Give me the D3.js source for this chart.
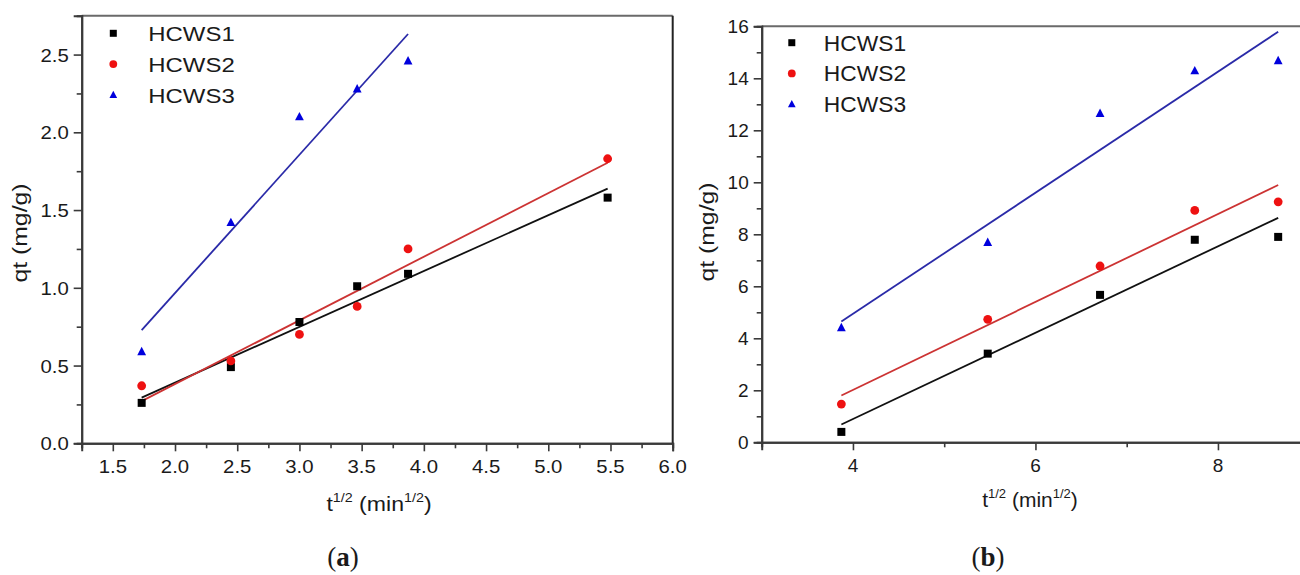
<!DOCTYPE html>
<html>
<head>
<meta charset="utf-8">
<script src="https://cdn.jsdelivr.net/npm/d3@7/dist/d3.min.js"></script>
<style>
  html, body { margin: 0; padding: 0; background: #fff; }
  svg { display: block; }
  text { font-family: "Liberation Sans", Arial, sans-serif; fill: #1a1a1a; }
</style>
</head>
<body>
<svg id="chart" width="1300" height="575"></svg>
<script>
// Intraparticle diffusion: qt against t^1/2 for three samples
const seriesNames = ["HCWS1", "HCWS2", "HCWS3"];

// (a) short contact times
const tA = [1.732, 2.449, 3.0, 3.464, 3.873, 5.477];
const qA1 = [0.26, 0.49, 0.78, 1.01, 1.09, 1.58];
const qA2 = [0.37, 0.53, 0.70, 0.88, 1.25, 1.83];
const qA3 = [0.59, 1.42, 2.10, 2.28, 2.46];
const xTicksA = [1.5, 2.0, 2.5, 3.0, 3.5, 4.0, 4.5, 5.0, 5.5, 6.0];
const yTicksA = [0.0, 0.5, 1.0, 1.5, 2.0, 2.5];

// (b) longer contact times
const tB = [3.873, 5.477, 6.708, 7.746, 8.660];
const qB1 = [0.40, 3.41, 5.67, 7.79, 7.90];
const qB2 = [1.47, 4.73, 6.78, 8.92, 9.25];
const qB3 = [4.41, 7.69, 12.65, 14.29, 14.68];
const xTicksB = [4, 6, 8];
const yTicksB = [0, 2, 4, 6, 8, 10, 12, 14, 16];

const pointColors = ["#000000", "#ee1111", "#0000dd"];
const lineColors = ["#111111", "#cc3333", "#2a2aa8"];
const shapes = ["square", "circle", "triangle"];

const svg = d3.select("#chart");

// least-squares straight line through a series
function fit(xs, ys) {
  const n = xs.length;
  const mx = d3.mean(xs), my = d3.mean(ys);
  let sxy = 0, sxx = 0;
  for (let i = 0; i < n; i++) { sxy += (xs[i] - mx) * (ys[i] - my); sxx += (xs[i] - mx) ** 2; }
  const b = sxy / sxx, a = my - b * mx;
  const x0 = d3.min(xs), x1 = d3.max(xs);
  return [[x0, a + b * x0], [x1, a + b * x1]];
}

function marker(g, shape, cx, cy, color, s) {
  if (shape === "square") {
    g.append("rect").attr("x", cx - s / 2).attr("y", cy - s / 2)
      .attr("width", s).attr("height", s).attr("fill", color);
  } else if (shape === "circle") {
    g.append("circle").attr("cx", cx).attr("cy", cy).attr("r", s / 2 + 0.4).attr("fill", color);
  } else {
    const h = s * 1.0, w = s * 1.1;
    g.append("path").attr("d", `M${cx},${cy - h * 0.6}L${cx + w / 2},${cy + h * 0.45}L${cx - w / 2},${cy + h * 0.45}Z`)
      .attr("fill", color);
  }
}

function stretchedText(g, x, y, str, size, sx, anchor) {
  return g.append("text")
    .attr("transform", `translate(${x},${y}) scale(${sx},1)`)
    .attr("text-anchor", anchor)
    .attr("font-size", size)
    .text(str);
}

function panel(cfg) {
  const g = svg.append("g");
  const x = d3.scaleLinear().domain(cfg.xDomain).range(cfg.xRange);
  const y = d3.scaleLinear().domain(cfg.yDomain).range(cfg.yRange);
  const axisColor = "#3a3a3a";

  // frame (top and right)
  g.append("line").attr("x1", cfg.xRange[0]).attr("x2", cfg.xRange[1])
    .attr("y1", cfg.yRange[1]).attr("y2", cfg.yRange[1])
    .attr("stroke", "#6a6a6a").attr("stroke-width", 2);
  g.append("line").attr("x1", cfg.xRange[1]).attr("x2", cfg.xRange[1])
    .attr("y1", cfg.yRange[1]).attr("y2", cfg.yRange[0])
    .attr("stroke", "#222").attr("stroke-width", 2);

  // axes: major and minor ticks, labels drawn separately
  const xMajor = d3.axisBottom(x).tickValues(cfg.xTicks).tickSize(8).tickFormat("");
  const xMinor = d3.axisBottom(x).tickValues(cfg.xMinor).tickSize(5).tickFormat("");
  const yMajor = d3.axisLeft(y).tickValues(cfg.yTicks).tickSize(8).tickFormat("");
  const yMinor = d3.axisLeft(y).tickValues(cfg.yMinor).tickSize(5).tickFormat("");
  [[xMajor, "x"], [xMinor, "x"], [yMajor, "y"], [yMinor, "y"]].forEach(([ax, k]) => {
    const a = g.append("g")
      .attr("transform", k === "x" ? `translate(0,${cfg.yRange[0]})` : `translate(${cfg.xRange[0]},0)`)
      .call(ax);
    a.select(".domain").attr("stroke", axisColor).attr("stroke-width", 2);
    a.selectAll(".tick line").attr("stroke", axisColor).attr("stroke-width", 1.6);
  });

  cfg.xTicks.forEach(v => stretchedText(g, x(v), cfg.yRange[0] + 30, cfg.fmt(v), cfg.tickSize, cfg.sx, "middle"));
  cfg.yTicks.forEach(v => stretchedText(g, cfg.xRange[0] - 13, y(v) + 7, cfg.fmt(v), cfg.tickSize, cfg.sx, "end"));

  // fitted lines
  cfg.series.forEach((ys, i) => {
    const xs = cfg.t.slice(0, ys.length);
    const seg = fit(xs, ys);
    g.append("line")
      .attr("x1", x(seg[0][0])).attr("y1", y(seg[0][1]))
      .attr("x2", x(seg[1][0])).attr("y2", y(seg[1][1]))
      .attr("stroke", lineColors[i]).attr("stroke-width", 1.8);
  });

  // measured points
  cfg.series.forEach((ys, i) => {
    ys.forEach((v, j) => marker(g, shapes[i], x(cfg.t[j]), y(v), pointColors[i], 8));
  });

  // legend
  seriesNames.forEach((name, i) => {
    const ly = cfg.legend.y + i * cfg.legend.dy;
    marker(g, shapes[i], cfg.legend.x, ly, pointColors[i], 7);
    stretchedText(g, cfg.legend.x + cfg.legend.gap, ly + 8, name, cfg.legendSize, cfg.legendSx, "start");
  });

  // axis titles
  const xt = g.append("text")
    .attr("transform", `translate(${cfg.xTitle[0]},${cfg.xTitle[1]}) scale(${cfg.sx},1)`)
    .attr("text-anchor", "middle").attr("font-size", 21);
  xt.append("tspan").text("t");
  xt.append("tspan").attr("font-size", 13).attr("dy", -9).text("1/2");
  xt.append("tspan").attr("dy", 9).text(" (min");
  xt.append("tspan").attr("font-size", 13).attr("dy", -9).text("1/2");
  xt.append("tspan").attr("dy", 9).text(")");

  g.append("text")
    .attr("transform", `translate(${cfg.yTitle[0]},${cfg.yTitle[1]}) rotate(-90) scale(1.18,1)`)
    .attr("text-anchor", "middle").attr("font-size", 21)
    .text("qt (mg/g)");

  // panel tag
  const tag = g.append("text")
    .attr("x", cfg.tag[0]).attr("y", cfg.tag[1])
    .attr("text-anchor", "middle")
    .attr("font-size", 27).attr("font-weight", "bold")
    .style("font-family", "'Liberation Serif', 'DejaVu Serif', serif");
  tag.append("tspan").attr("font-weight", "normal").text("(");
  tag.append("tspan").text(cfg.tagLetter);
  tag.append("tspan").attr("font-weight", "normal").text(")");
}

panel({
  xDomain: [1.25, 6.0], xRange: [81.7, 672.7],
  yDomain: [0, 2.75], yRange: [443.3, 15.7],
  xTicks: xTicksA, xMinor: d3.range(1.25, 6.0, 0.5),
  yTicks: yTicksA, yMinor: d3.range(0.25, 2.7, 0.5),
  fmt: d3.format(".1f"), tickSize: 18.5, sx: 1.1,
  t: tA, series: [qA1, qA2, qA3],
  legend: { x: 113.3, y: 33.3, dy: 30.8, gap: 35, },
  legendSize: 21, legendSx: 1.14,
  xTitle: [379, 511], yTitle: [27, 233],
  tag: [343, 566], tagLetter: "a"
});

panel({
  xDomain: [3, 9], xRange: [761.7, 1309.2],
  yDomain: [0, 16], yRange: [442.3, 26.3],
  xTicks: xTicksB, xMinor: [5, 7, 9],
  yTicks: yTicksB, yMinor: d3.range(1, 16, 2),
  fmt: d3.format("d"), tickSize: 19, sx: 1.0,
  t: tB, series: [qB1, qB2, qB3],
  legend: { x: 791.8, y: 42.7, dy: 30.7, gap: 32 },
  legendSize: 21.5, legendSx: 1.06,
  xTitle: [1030, 507], yTitle: [714, 232],
  tag: [988, 566], tagLetter: "b"
});
</script>
</body>
</html>
